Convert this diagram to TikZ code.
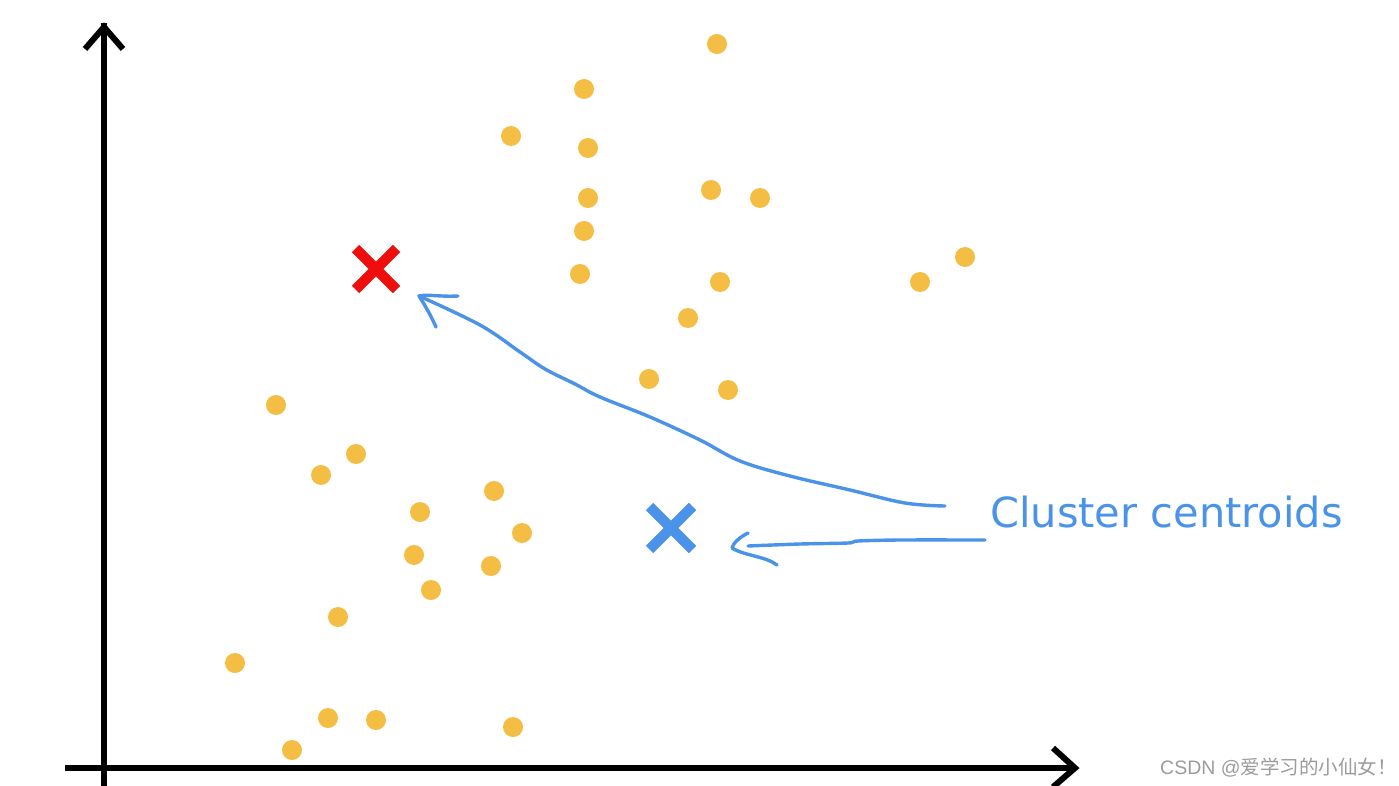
\documentclass[tikz,border=0pt]{standalone}
\usepackage{fontspec}
\newfontfamily\dejavu{DejaVu Sans}
\newfontfamily\libsans{Liberation Sans}
\newfontfamily\cjk{Noto Sans CJK SC}
\definecolor{dotc}{HTML}{F4BD43}
\definecolor{bluec}{HTML}{4A93E8}
\definecolor{redc}{HTML}{EE0E0E}
\definecolor{wmark}{HTML}{9C9C9C}
\begin{document}
\begin{tikzpicture}[x=1pt,y=-1pt,
  axis/.style={line width=6pt,black},
  axhead/.style={line width=6pt,black,line join=miter},
  pt/.style={fill=dotc},
  xmark/.style={line width=10.5pt},
  hand/.style={bluec,line width=3.4pt,line cap=round,line join=round}]
\useasboundingbox[fill=white] (0,0) rectangle (1399,786);
% axes
\coordinate (yb) at (104,786);
\coordinate (yt) at (104,27);
\coordinate (xl) at (65,768);
\coordinate (xr) at (1075,768);
\draw[axis] (yb) -- ([yshift=4pt]yt);
\draw[axhead] (85,49) -- (yt) -- (123,49);
\draw[axis] (xl) -- ([xshift=-4pt]xr);
\draw[axhead] (1053,748) -- (xr) -- (1053,787);
% data points
\foreach \px/\py in {717/44,584/89,511/136,588/148,588/198,711/190,760/198,584/231,580/274,720/282,965/257,920/282,688/318,649/379,728/390,276/405,356/454,321/475,494/491,420/512,522/533,414/555,491/566,431/590,338/617,235/663,328/718,376/720,513/727,292/750}
  \fill[pt] (\px,\py) circle (10);
% centroids
\node[inner sep=0pt,minimum size=48pt] (red) at (376,269) {};
\draw[xmark,redc] ([shift={(-20.5,-20.5)}]red.center) -- ([shift={(20.5,20.5)}]red.center);
\draw[xmark,redc] ([shift={(20.5,-20.5)}]red.center) -- ([shift={(-20.5,20.5)}]red.center);
\node[inner sep=0pt,minimum size=50pt] (blue) at (671,528) {};
\draw[xmark,bluec] ([shift={(-21.5,-21.5)}]blue.center) -- ([shift={(21.5,21.5)}]blue.center);
\draw[xmark,bluec] ([shift={(21.5,-21.5)}]blue.center) -- ([shift={(-21.5,21.5)}]blue.center);
% label
\node[anchor=base west,inner sep=0pt,text=bluec,font=\dejavu\fontsize{41.5}{41.5}\selectfont] (lab) at (990,527) {Cluster centroids};
% hand-drawn arrows
\coordinate (s1) at (945,506);
\coordinate (t1) at (419,296);
\draw[hand] plot[smooth,tension=0.6] coordinates {(s1) (905,503) (850,490) (790,476) (740,461) (700,440) (650,417) (600,397) (575,384) (545,369) (520,352) (480,325) (t1)};
\draw[hand] (458,296) .. controls (440,297) and (428,294) .. (t1) .. controls (425,305) and (432,318) .. (436,327);
\coordinate (s2) at (985,540);
\coordinate (t2) at (732,548);
\draw[hand] plot[smooth,tension=0.5] coordinates {(s2) (900,540) (858,541) (848,543) (800,544) (748,546)};
\draw[hand] (748,533) .. controls (740,537) and (733,543) .. (t2) .. controls (745,556) and (765,556) .. (777,565);
% watermark
\node[anchor=base west,inner sep=0pt,text=wmark,font=\fontsize{19.5}{19.5}\selectfont] (wm) at (1160,774) {\libsans CSDN @\cjk 爱学习的小仙女！};
\end{tikzpicture}
\end{document}
